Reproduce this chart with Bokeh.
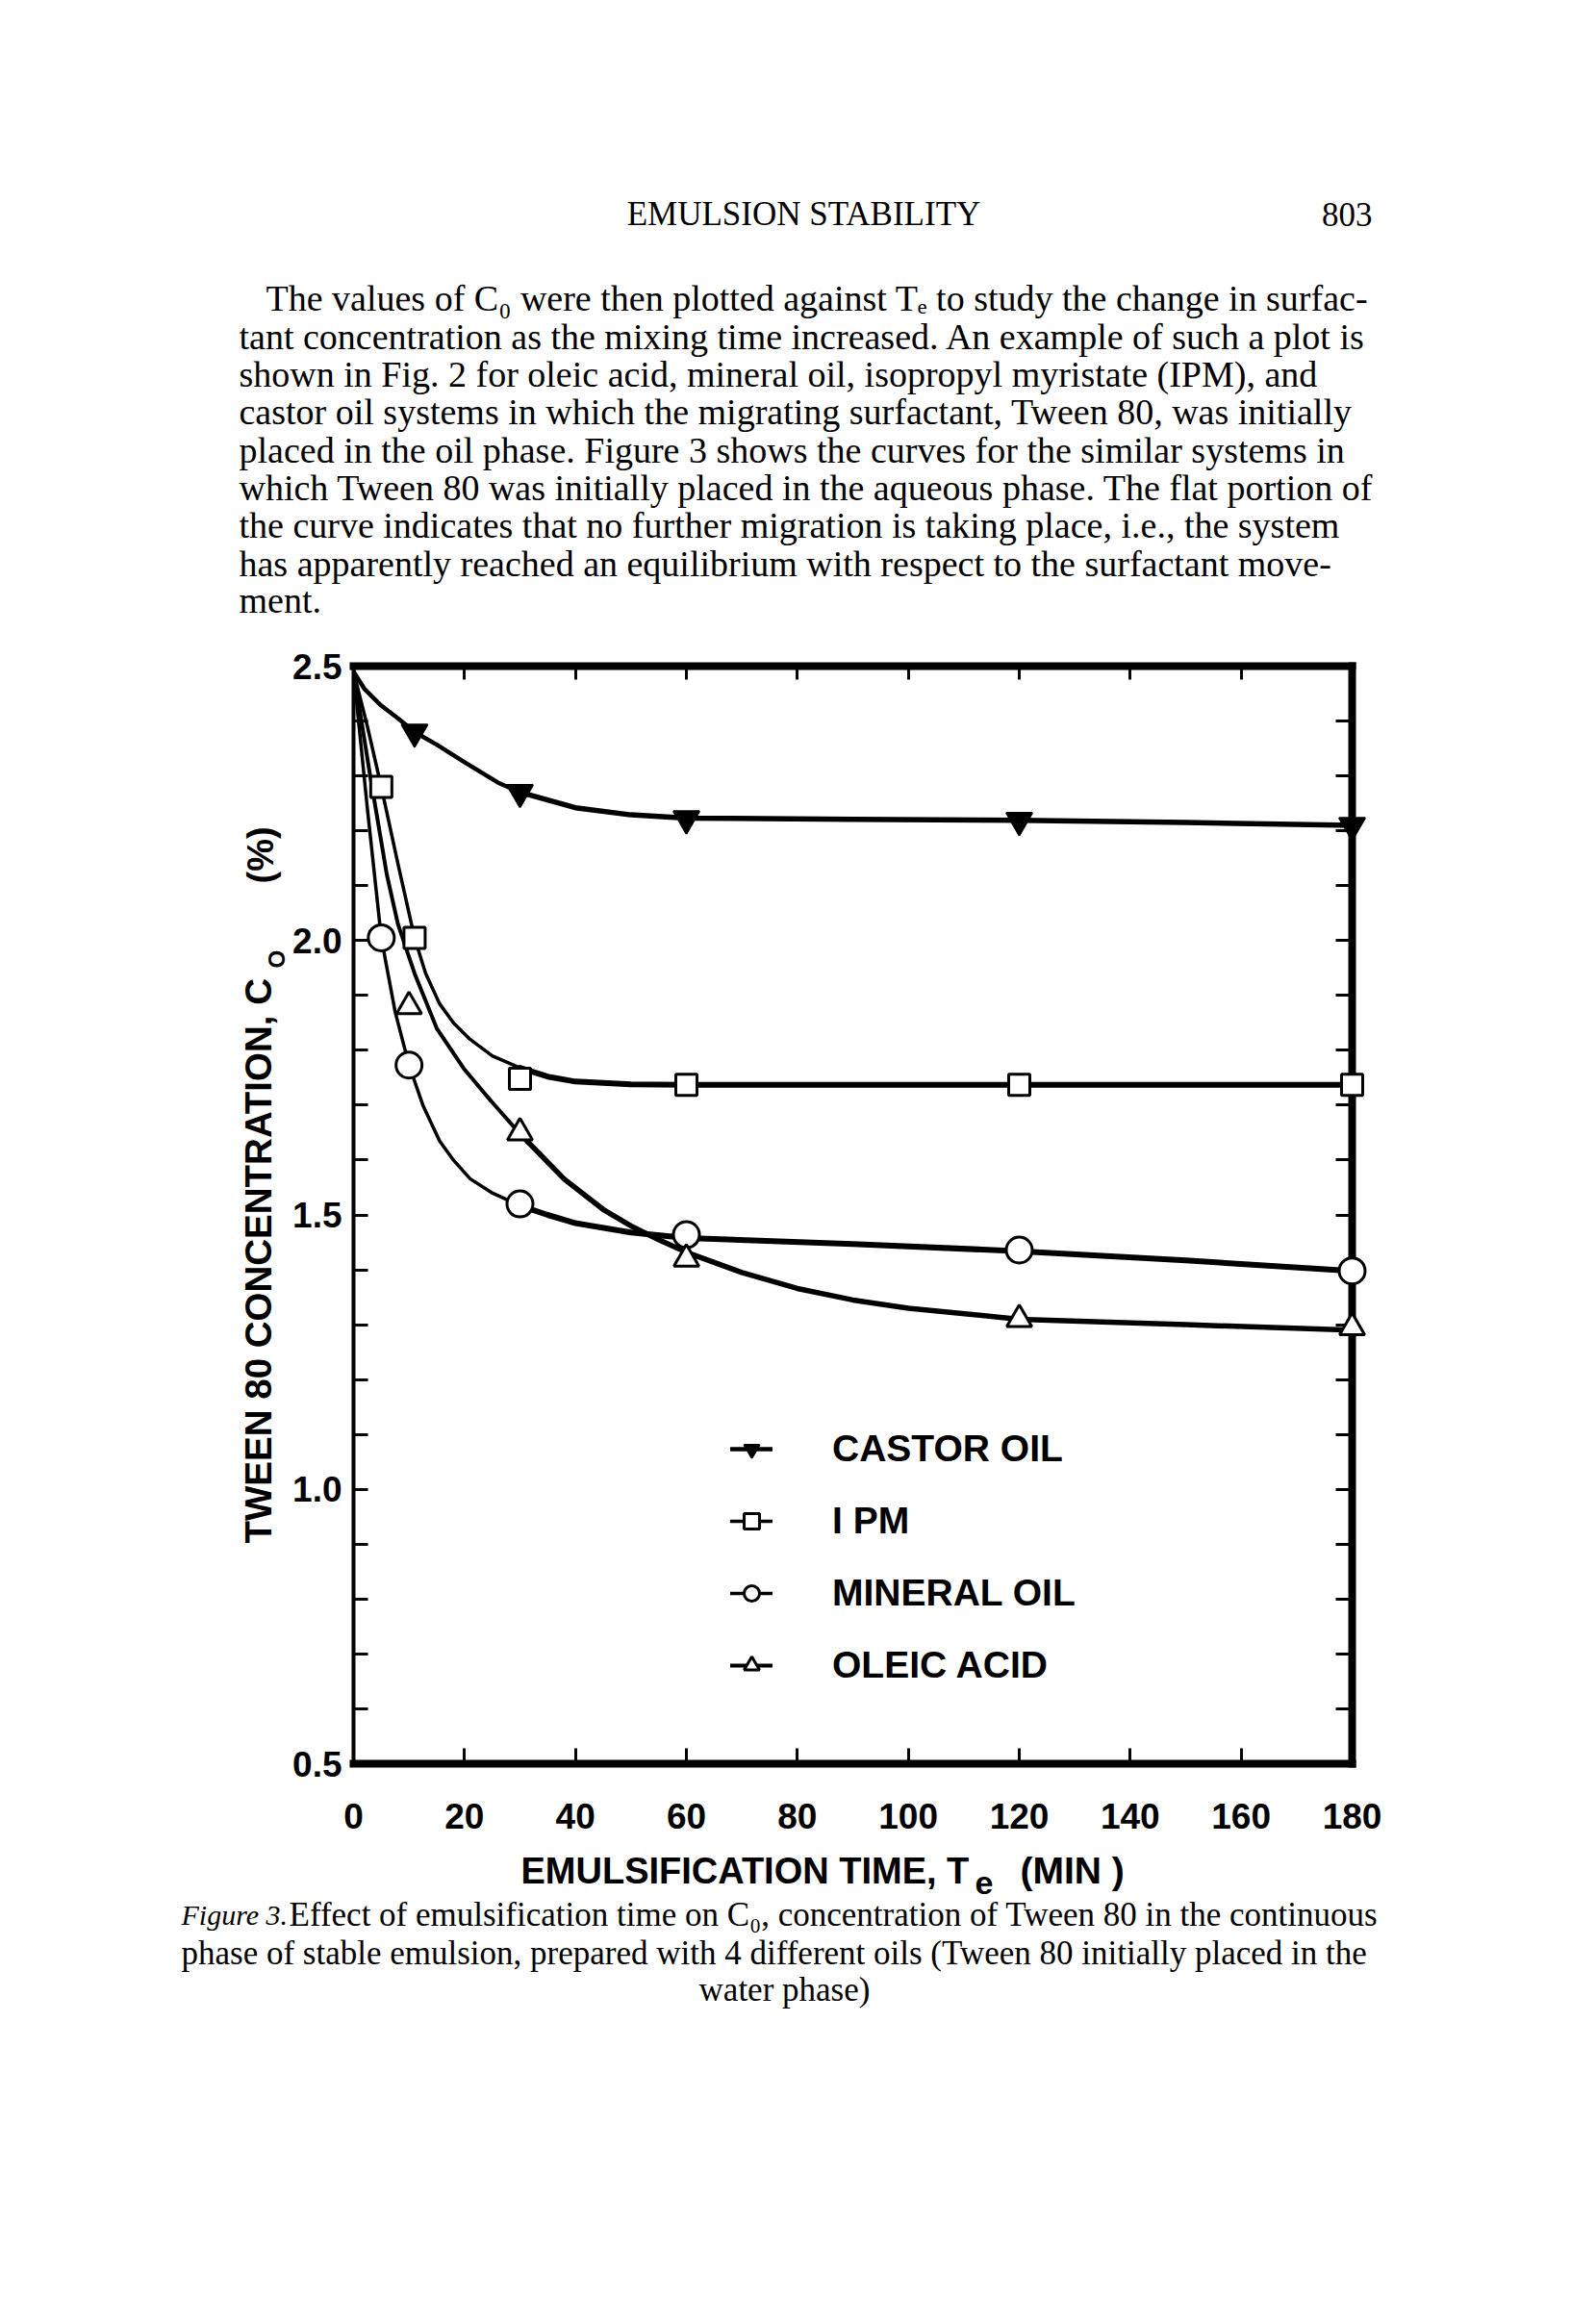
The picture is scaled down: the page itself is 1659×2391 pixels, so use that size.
from math import pi
from bokeh.plotting import figure
from bokeh.models import Range1d, LinearAxis, FixedTicker, Legend, LegendItem
from bokeh.core.properties import value
from bokeh.embed import file_html
from bokeh.resources import INLINE

# ---------------- data ----------------
castor_t = [11, 30, 60, 120, 180]
castor_c = [2.38, 2.27, 2.222, 2.219, 2.21]
ipm_t = [5, 11, 30, 60, 120, 180]
ipm_c = [2.28, 2.005, 1.748, 1.737, 1.737, 1.737]
mineral_t = [5, 10, 30, 60, 120, 180]
mineral_c = [2.005, 1.773, 1.52, 1.464, 1.436, 1.398]
oleic_t = [10, 30, 60, 120, 180]
oleic_c = [1.88, 1.65, 1.42, 1.31, 1.295]

# hand-drawn smooth curves
castor_curve_t = [0, 2, 5, 8, 11, 15, 20, 26, 30, 40, 50, 60, 90, 120, 150, 180]
castor_curve_c = [2.49, 2.458, 2.428, 2.405, 2.38, 2.357, 2.325, 2.288, 2.27, 2.242,
                  2.229, 2.223, 2.221, 2.219, 2.215, 2.21]
ipm_curve_t = [0, 2.5, 5, 8, 11, 13, 15.5, 18, 21, 25, 30, 35, 40, 50, 60, 120, 180]
ipm_curve_c = [2.49, 2.39, 2.28, 2.14, 2.005, 1.94, 1.885, 1.85, 1.82, 1.79, 1.768,
               1.752, 1.743, 1.738, 1.737, 1.737, 1.737]
mineral_curve_t = [0, 2.5, 5, 7.5, 10, 12.5, 15.5, 18, 21, 25, 30, 35, 40, 50, 60,
                   90, 120, 150, 180]
mineral_curve_c = [2.49, 2.24, 2.005, 1.87, 1.773, 1.70, 1.635, 1.60, 1.566, 1.54,
                   1.517, 1.50, 1.485, 1.468, 1.458, 1.447, 1.434, 1.417, 1.398]
oleic_curve_t = [0, 3, 6, 8, 11, 15, 20, 25, 30, 38, 45, 50, 55, 60, 70, 80, 90,
                 100, 120, 150, 180]
oleic_curve_c = [2.49, 2.30, 2.12, 2.03, 1.94, 1.84, 1.765, 1.705, 1.648, 1.565, 1.51,
                 1.48, 1.455, 1.432, 1.395, 1.366, 1.345, 1.33, 1.31, 1.30, 1.29]

x_ticks = [0, 20, 40, 60, 80, 100, 120, 140, 160, 180]
y_major = [0.5, 1.0, 1.5, 2.0, 2.5]
y_major_labels = ["0.5", "1.0", "1.5", "2.0", "2.5"]
y_minor = [0.6, 0.7, 0.8, 0.9, 1.1, 1.2, 1.3, 1.4, 1.6, 1.7, 1.8, 1.9,
           2.1, 2.2, 2.3, 2.4]

header_text = "EMULSION STABILITY"
page_number = "803"
paragraph = [
    "The values of C\u2080 were then plotted against T\u2091 to study the change in surfac-",
    "tant concentration as the mixing time increased. An example of such a plot is",
    "shown in Fig. 2 for oleic acid, mineral oil, isopropyl myristate (IPM), and",
    "castor oil systems in which the migrating surfactant, Tween 80, was initially",
    "placed in the oil phase. Figure 3 shows the curves for the similar systems in",
    "which Tween 80 was initially placed in the aqueous phase. The flat portion of",
    "the curve indicates that no further migration is taking place, i.e., the system",
    "has apparently reached an equilibrium with respect to the surfactant move-",
    "ment.",
]
caption_lead = "Figure 3."
caption = [
    "Effect of emulsification time on C\u2080, concentration of Tween 80 in the continuous",
    "phase of stable emulsion, prepared with 4 different oils (Tween 80 initially placed in the",
    "water phase)",
]

# ---------------- layout ----------------
SANS = "'Liberation Sans', 'DejaVu Sans', sans-serif"
SERIF = "'Liberation Serif', 'DejaVu Serif', serif"
W, H = 1659, 2390
# page pixels of the frame edges
FL, FR, FT, FB = 367, 1405, 692, 1833

p = figure(width=W, height=H, x_range=Range1d(0, 180), y_range=Range1d(0.5, 2.5),
           output_backend="svg", toolbar_location=None, title=None,
           min_border_left=FL, min_border_right=W - FR,
           min_border_top=FT, min_border_bottom=H - FB)
p.background_fill_color = "white"
p.border_fill_color = "white"
p.outline_line_color = None
p.xgrid.visible = False
p.ygrid.visible = False


def style_axis(ax, width, tick_len):
    ax.axis_line_width = width
    ax.axis_line_cap = "square"
    ax.axis_line_color = "black"
    ax.major_tick_in = tick_len
    ax.major_tick_out = 0
    ax.major_tick_line_width = 3
    ax.major_tick_line_color = "black"
    ax.minor_tick_in = tick_len
    ax.minor_tick_out = 0
    ax.minor_tick_line_width = 3
    ax.minor_tick_line_color = "black"
    ax.major_label_text_color = "black"


xa = p.xaxis[0]
xa.ticker = FixedTicker(ticks=x_ticks)
style_axis(xa, 8, 16)
xa.major_label_text_font = SANS
xa.major_label_text_font_size = "37px"
xa.major_label_text_font_style = "bold"
xa.major_label_standoff = 41

ya = p.yaxis[0]
ya.ticker = FixedTicker(ticks=y_major, minor_ticks=y_minor)
ya.major_label_overrides = {v: s for v, s in zip(y_major, y_major_labels)}
style_axis(ya, 4, 15)
ya.major_label_text_font = SANS
ya.major_label_text_font_size = "37px"
ya.major_label_text_font_style = "bold"
ya.major_label_standoff = 12

top = LinearAxis(ticker=FixedTicker(ticks=x_ticks[1:-1]),
                 major_label_overrides={t: "" for t in x_ticks})
style_axis(top, 8, 14)
p.add_layout(top, "above")

right = LinearAxis(ticker=FixedTicker(ticks=y_major[1:-1], minor_ticks=y_minor),
                   major_label_overrides={v: "" for v in y_major})
style_axis(right, 8, 17)
p.add_layout(right, "right")


def lines(ts, cs, thin, thick):
    i = ts.index(30)
    r1 = p.line(ts[:i + 1], cs[:i + 1], line_color="black", line_width=thin,
                line_join="round", line_cap="round")
    p.line(ts[i:], cs[i:], line_color="black", line_width=thick,
           line_join="round", line_cap="round")
    return r1


l_castor = lines(castor_curve_t, castor_curve_c, 4.5, 5.5)
l_ipm = lines(ipm_curve_t, ipm_curve_c, 3.5, 6)
l_min = lines(mineral_curve_t, mineral_curve_c, 3.5, 6)
l_ole = lines(oleic_curve_t, oleic_curve_c, 4, 5.5)

m_castor = p.scatter(castor_t, castor_c, marker="inverted_triangle", size=27,
                     fill_color="black", line_color="black", line_width=2, level="overlay")
m_ipm = p.scatter(ipm_t, ipm_c, marker="square", size=22, fill_color="white",
                  line_color="black", line_width=3, level="overlay")
m_min = p.scatter(mineral_t, mineral_c, marker="circle", size=27, fill_color="white",
                  line_color="black", line_width=3, level="overlay")
m_ole = p.scatter(oleic_t, oleic_c, marker="triangle", size=26, fill_color="white",
                  line_color="black", line_width=3, level="overlay")

legend = Legend(items=[
    LegendItem(label="CASTOR OIL", renderers=[l_castor, m_castor]),
    LegendItem(label="I PM", renderers=[l_ipm, m_ipm]),
    LegendItem(label="MINERAL OIL", renderers=[l_min, m_min]),
    LegendItem(label="OLEIC ACID", renderers=[l_ole, m_ole]),
], location=(392, 80), glyph_width=44, glyph_height=40, label_height=40,
    label_standoff=62, spacing=31, padding=0, margin=0,
    border_line_color=None, background_fill_alpha=0, label_text_color="black",
    label_text_font=SANS, label_text_font_size="39px", label_text_font_style="bold")
p.add_layout(legend)


def text(t, px, py, size, font=SERIF, style="normal", align="left",
         baseline="alphabetic", angle=0.0):
    # convert a page-pixel position to the plot's data coordinates
    x = (px - FL) * 180.0 / (FR - FL)
    y = 0.5 + (FB - py) * 2.0 / (FB - FT)
    p.text(x=[x], y=[y], text=[t], text_font=value(font), text_font_size=value(size),
           text_font_style=style, text_align=align, text_baseline=baseline,
           angle=angle, text_color="black", level="overlay")


# page header
text(header_text, 835, 222, "35px", align="center")
text(page_number, 1426, 222, "35px", align="right")

# body paragraph
baselines = [309, 349, 388, 427, 467, 506, 545, 585, 623]
for k, (line, b) in enumerate(zip(paragraph, baselines)):
    text(line, 276 if k == 0 else 248, b, "38px")

# axis titles
text("TWEEN 80 CONCENTRATION, C", 268, 1604, "38.5px", font=SANS, style="bold",
     baseline="middle", angle=pi / 2)
text("O", 287, 1006, "24px", font=SANS, style="bold", baseline="middle", angle=pi / 2)
text("(%)", 270, 918, "38px", font=SANS, style="bold", baseline="middle", angle=pi / 2)

text("EMULSIFICATION TIME, T", 541, 1944, "38px", font=SANS, style="bold")
text("e", 1013, 1957, "34px", font=SANS, style="bold")
text("(MIN )", 1060, 1944, "39px", font=SANS, style="bold")

# caption
text(caption_lead, 188, 1990, "30px", style="italic")
text(caption[0], 300, 1990, "35px")
text(caption[1], 188, 2030, "35px")
text(caption[2], 815, 2068, "35px", align="center")

open("out.html", "w").write(file_html(p, INLINE))
